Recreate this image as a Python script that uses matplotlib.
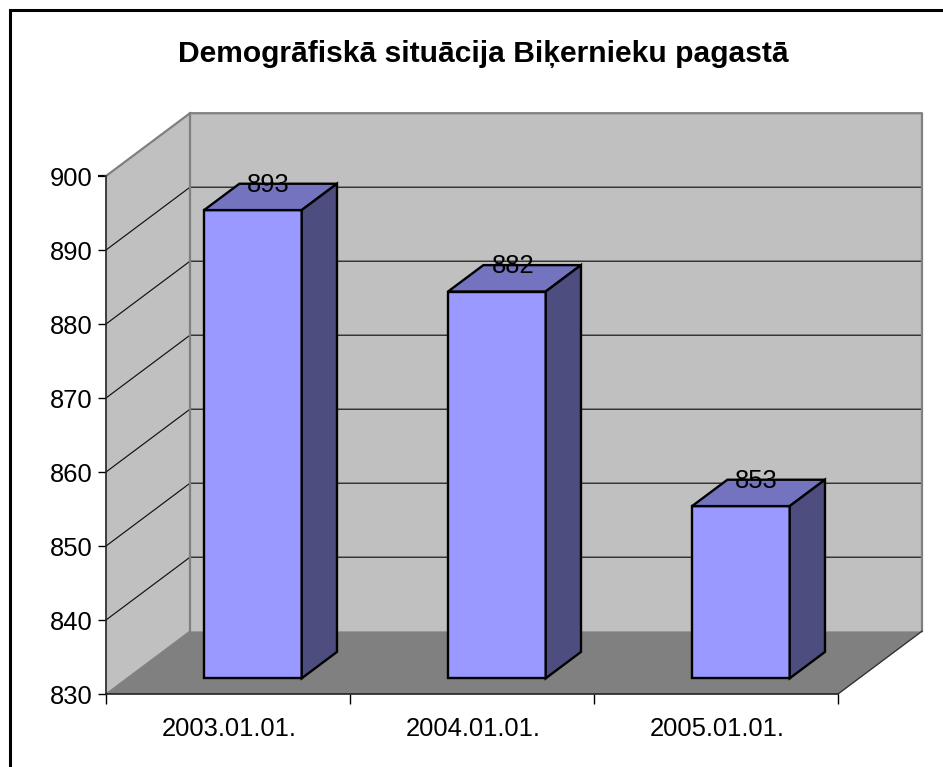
import matplotlib
matplotlib.use("Agg")
import matplotlib.pyplot as plt
from matplotlib.lines import Line2D
from matplotlib.patches import Polygon

plt.rcParams['font.family'] = ['Liberation Sans', 'DejaVu Sans']

# Data
datumi = ["2003.01.01.", "2004.01.01.", "2005.01.01."]
iedzivotaji = [893, 882, 853]
y_ticks = [830, 840, 850, 860, 870, 880, 890, 900]
virsraksts = "Demogrāfiskā situācija Biķernieku pagastā"

# Size of the figure in pixels
W, H = 943, 767

# Depth of the fake 3D box, in data units
DX = 84 / 244
DY = 62.8 / 7.4
BAR_W = 0.40
BAR_SHIFT = 0.016
TOP_PAD = 0.27
# where the bar sits inside the depth (fractions)
D0 = 0.25
D1 = 0.67

C_WALL = "#c0c0c0"
C_FLOOR = "#808080"
C_FRONT = "#9999ff"
C_TOP = "#7373bf"
C_SIDE = "#4d4d80"
FS = 18.4


# --------------------------------------------------------------
# point (x, y) pushed back by depth d
def p(x, y, d=0.0):
    return (x + d * DX, y + d * DY)


def quad(ax, pts, fc, ec="none", lw=0.0, z=1):
    ax.add_patch(Polygon(pts, closed=True, facecolor=fc, edgecolor=ec,
                         linewidth=lw, zorder=z, clip_on=False,
                         joinstyle="miter"))


def draw_box(ax, xmin, xmax, ymin, ymax):
    # left wall, back wall, floor
    quad(ax, [p(xmin, ymin), p(xmin, ymax), p(xmin, ymax, 1), p(xmin, ymin, 1)], C_WALL)
    quad(ax, [p(xmin, ymin, 1), p(xmin, ymax, 1), p(xmax, ymax, 1), p(xmax, ymin, 1)], C_WALL)
    quad(ax, [p(xmin, ymin), p(xmin, ymin, 1), p(xmax, ymin, 1), p(xmax, ymin)], C_FLOOR)

    # gridlines on both walls
    for v in y_ticks[1:-1]:
        xs, ys = zip(p(xmin, v), p(xmin, v, 1), p(xmax, v, 1))
        ax.plot(xs, ys, color="#111111", lw=0.85, zorder=2, clip_on=False)

    # grey outline of the walls
    xs, ys = zip(p(xmin, ymax), p(xmin, ymax, 1), p(xmax, ymax, 1), p(xmax, ymin, 1))
    ax.plot(xs, ys, color="#808080", lw=1.6, zorder=2, clip_on=False)
    xs, ys = zip(p(xmin, ymin, 1), p(xmin, ymax, 1))
    ax.plot(xs, ys, color="#808080", lw=1.6, zorder=2, clip_on=False)
    xs, ys = zip(p(xmin, ymin), p(xmin, ymin, 1))
    ax.plot(xs, ys, color="#808080", lw=1.0, zorder=2, clip_on=False)
    xs, ys = zip(p(xmax, ymin), p(xmax, ymin, 1))
    ax.plot(xs, ys, color="#333333", lw=1.0, zorder=2, clip_on=False)


def draw_bar(ax, i, val, ymin):
    l = i + BAR_SHIFT - BAR_W / 2
    r = i + BAR_SHIFT + BAR_W / 2
    t = val + TOP_PAD
    # front face, top, right side
    quad(ax, [p(l, ymin, D0), p(l, t, D0), p(r, t, D0), p(r, ymin, D0)],
         C_FRONT, "black", 1.7, 3)
    quad(ax, [p(l, t, D0), p(l, t, D1), p(r, t, D1), p(r, t, D0)],
         C_TOP, "black", 1.7, 3)
    quad(ax, [p(r, ymin, D0), p(r, t, D0), p(r, t, D1), p(r, ymin, D1)],
         C_SIDE, "black", 1.7, 3)
    # value label
    lx, ly = p(i, val, (D0 + D1) / 2)
    ax.annotate(str(val), (lx, ly), xytext=(1.5, 10), textcoords="offset points",
                ha="center", va="center", fontsize=FS, color="black",
                zorder=5, annotation_clip=False)


def main():
    fig = plt.figure(figsize=(W / 100, H / 100), dpi=100, facecolor="white")

    # the frame only shows on the top and left
    fig.add_artist(Line2D([9.5 / W, 9.5 / W, 1], [0, 1 - 9.5 / H, 1 - 9.5 / H],
                          transform=fig.transFigure, color="black", lw=2.2,
                          solid_joinstyle="miter"))

    ax = fig.add_axes([106 / W, 1 - 694 / H, 732 / W, 518 / H])
    ax.patch.set_visible(False)
    xmin, xmax = -0.5, 2.5
    ymin, ymax = y_ticks[0], y_ticks[-1]
    ax.set_xlim(xmin, xmax)
    ax.set_ylim(ymin, ymax)

    draw_box(ax, xmin, xmax, ymin, ymax)
    for i, val in enumerate(iedzivotaji):
        draw_bar(ax, i, val, ymin)

    ax.set_yticks(y_ticks)
    ax.set_xticks([-0.5, 0.5, 1.5, 2.5])
    ax.set_xticklabels([])
    ax.set_xticks([i + 0.005 for i in range(len(datumi))], minor=True)
    ax.set_xticklabels(datumi, minor=True)
    ax.tick_params(axis="x", which="minor", length=0, pad=16.5, labelsize=FS)
    ax.tick_params(axis="x", which="major", length=7, width=1)
    ax.tick_params(axis="y", length=5.8, width=1, pad=3.6, labelsize=FS)
    # top tick is grey like the wall edge
    ax.yaxis.get_major_ticks()[-1].tick1line.set_color("#808080")
    ax.yaxis.get_major_ticks()[-1].tick1line.set_markeredgewidth(1.6)

    ax.spines["top"].set_visible(False)
    ax.spines["right"].set_visible(False)
    for s in ["left", "bottom"]:
        ax.spines[s].set_linewidth(1.2)
        ax.spines[s].set_color("#222222")
        ax.spines[s].set_zorder(2.5)

    fig.text(483.5 / W, 1 - 54 / H, virsraksts, ha="center", va="center",
             fontsize=21.6, fontweight="bold", color="black")

    fig.savefig("out.png", dpi=100)


if __name__ == "__main__":
    main()
